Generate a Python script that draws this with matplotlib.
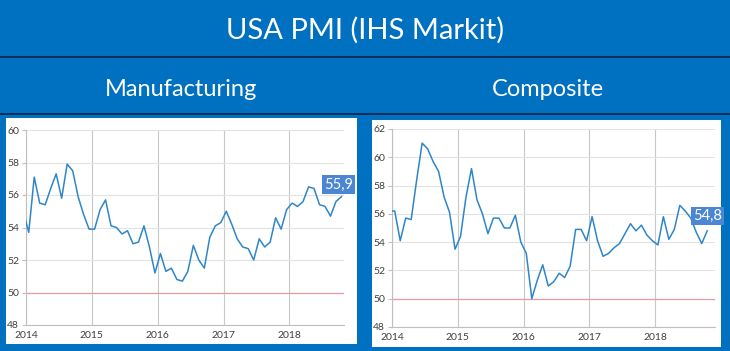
import numpy as np
import matplotlib
matplotlib.use('Agg')
import matplotlib.pyplot as plt
from matplotlib.patches import Rectangle
from matplotlib.lines import Line2D

# Monthly PMI values, Dec 2013 .. Oct 2018
manufacturing = [55.0,
                 53.7, 57.1, 55.5, 55.4, 56.4, 57.3, 55.8, 57.9, 57.5, 55.9, 54.8, 53.9,
                 53.9, 55.1, 55.7, 54.1, 54.0, 53.6, 53.8, 53.0, 53.1, 54.1, 52.8, 51.2,
                 52.4, 51.3, 51.5, 50.8, 50.7, 51.3, 52.9, 52.0, 51.5, 53.4, 54.1, 54.3,
                 55.0, 54.2, 53.3, 52.8, 52.7, 52.0, 53.3, 52.8, 53.1, 54.6, 53.9, 55.1,
                 55.5, 55.3, 55.6, 56.5, 56.4, 55.4, 55.3, 54.7, 55.6, 55.9]
composite = [56.2,
             56.2, 54.1, 55.7, 55.6, 58.4, 61.0, 60.6, 59.7, 59.0, 57.2, 56.1, 53.5,
             54.4, 57.2, 59.2, 57.0, 56.0, 54.6, 55.7, 55.7, 55.0, 55.0, 55.9, 54.0,
             53.2, 50.0, 51.3, 52.4, 50.9, 51.2, 51.8, 51.5, 52.3, 54.9, 54.9, 54.1,
             55.8, 54.1, 53.0, 53.2, 53.6, 53.9, 54.6, 55.3, 54.8, 55.2, 54.5, 54.1,
             53.8, 55.8, 54.2, 54.9, 56.6, 56.2, 55.7, 54.7, 53.9, 54.8]
years = [2014, 2015, 2016, 2017, 2018]
months = np.arange(-1, len(manufacturing) - 1)   # month index, 0 = Jan 2014

title = 'USA PMI (IHS Markit)'
subtitles = ['Manufacturing', 'Composite']

W, H = 730, 351
BLUE = '#0070c0'
LINE = '#2e86c8'
FONT = ['Lato', 'DejaVu Sans']

fig = plt.figure(figsize=(W / 100, H / 100), dpi=100)
fig.patch.set_facecolor(BLUE)


def px_box(x0, y0, x1, y1):
    # pixel box (top-left origin) -> figure fraction rect
    return [x0 / W, 1 - y1 / H, (x1 - x0) / W, (y1 - y0) / H]


# header separators
for y in (57, 114):
    fig.add_artist(Line2D([0, 1], [1 - y / H] * 2, color='#0a2340', lw=1.2))

fig.text(0.5, 1 - 30 / H, title, ha='center', va='center', color='white',
         fontsize=21, family=FONT)
fig.text(181 / W, 1 - 89 / H, subtitles[0], ha='center', va='center',
         color='white', fontsize=17, family=FONT)
fig.text(548 / W, 1 - 89 / H, subtitles[1], ha='center', va='center',
         color='white', fontsize=17, family=FONT)

# white panels
for r in [(6, 118, 357, 344), (372, 120, 721, 347)]:
    b = px_box(*r)
    fig.add_artist(Rectangle((b[0], b[1]), b[2], b[3], transform=fig.transFigure,
                             facecolor='white', edgecolor='none', zorder=0))

panels = [
    dict(data=manufacturing, rect=(26, 130, 344, 325), ylim=(48, 60),
         xmax=2018.83, off=(-3, 12)),
    dict(data=composite, rect=(392, 129, 715, 327), ylim=(48, 62),
         xmax=2018.91, off=(0, 15)),
]

for p in panels:
    ax = fig.add_axes(px_box(*p['rect']))
    ax.set_facecolor('none')
    x = 2014 + (months + 0.5) / 12
    vals = np.array(p['data'])
    ax.plot(x, vals, color=LINE, lw=1.1, zorder=3)
    ax.axhline(50, color='#e89aa4', lw=0.9, zorder=2)
    ax.set_xlim(2014, p['xmax'])
    ax.set_ylim(*p['ylim'])
    ax.set_yticks(np.arange(p['ylim'][0], p['ylim'][1] + 1, 2))
    ax.set_xticks(years)
    ax.set_xticklabels([str(y) for y in years])
    ax.grid(axis='y', color='#e3e3e3', lw=0.8)
    ax.grid(axis='x', color='#c8c8c8', lw=0.8)
    ax.set_axisbelow(True)
    for s in ('top', 'right'):
        ax.spines[s].set_visible(False)
    for s in ('left', 'bottom'):
        ax.spines[s].set_color('#bfbfbf')
        ax.spines[s].set_linewidth(0.8)
    ax.tick_params(axis='y', length=3, color='#bfbfbf', labelsize=7.5,
                   labelcolor='#404040', pad=2)
    ax.tick_params(axis='x', length=0, labelsize=7.5, labelcolor='#404040', pad=4)
    for lab in ax.get_xticklabels() + ax.get_yticklabels():
        lab.set_family(FONT)
    ax.annotate(f'{vals[-1]:.1f}'.replace('.', ','), (x[-1], vals[-1]),
                xytext=p['off'], textcoords='offset pixels', ha='center',
                va='center', color='white', fontsize=10.5, family=FONT,
                bbox=dict(boxstyle='square,pad=0.15', fc='#4a86d4', ec='none'),
                zorder=5, annotation_clip=False)

fig.savefig('out.png', dpi=100, facecolor=fig.get_facecolor())
